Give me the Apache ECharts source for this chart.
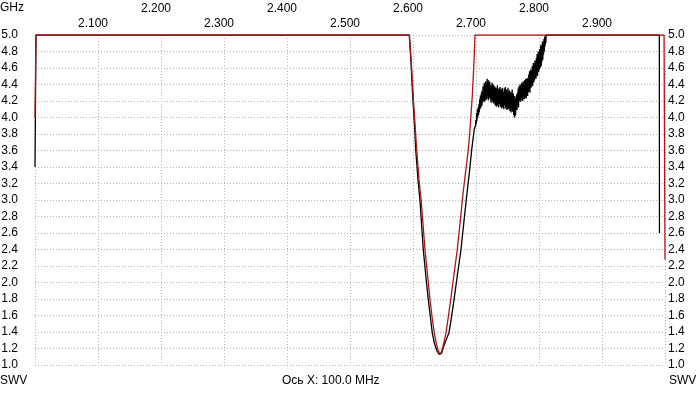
<!DOCTYPE html>
<html>
<head>
<meta charset="utf-8">
<script src="https://cdn.jsdelivr.net/npm/echarts@6/dist/echarts.min.js"></script>
<style>
html,body{margin:0;padding:0;background:#fff;}
#chart{width:700px;height:400px;}
</style>
</head>
<body>
<div id="chart"></div>
<script>
// ---- Data (frequency in GHz, SWR) ----
const xTicks = [2.1, 2.2, 2.3, 2.4, 2.5, 2.6, 2.7, 2.8, 2.9];
const yTicks = [1.0, 1.2, 1.4, 1.6, 1.8, 2.0, 2.2, 2.4, 2.6, 2.8, 3.0, 3.2, 3.4, 3.6, 3.8, 4.0, 4.2, 4.4, 4.6, 4.8, 5.0];

// black trace: smooth part (start + resonance dip)
const blackFreqA = [2.0000, 2.0016, 2.5941, 2.5968, 2.5995, 2.6027, 2.6043, 2.6079, 2.6111, 2.6163, 2.6206, 2.6243, 2.6278, 2.6306, 2.6341, 2.6381, 2.6413, 2.6429,
  2.6452, 2.6484, 2.6524, 2.6571, 2.6611, 2.6651, 2.6706, 2.6762, 2.6810, 2.6857, 2.6897, 2.6932, 2.6973];
const blackSwrA = [3.40, 5.00, 5.00, 4.67, 4.26, 3.86, 3.61, 3.25, 2.99, 2.40, 2.06, 1.79, 1.57, 1.39, 1.26, 1.17, 1.13, 1.12,
  1.14, 1.22, 1.30, 1.39, 1.58, 1.79, 2.10, 2.40, 2.75, 3.08, 3.35, 3.61, 3.86];
// black trace: noisy sweep section (start 2.6992 GHz, 0.6 MHz per sample)
const noiseStart = 2.6992;
const noiseStep = 0.0006;
const blackSwrNoise = [
  3.90, 3.97, 3.92, 4.05, 3.96, 4.10, 4.00, 4.12, 4.03, 4.16,
  4.06, 4.22, 4.10, 4.27, 4.12, 4.20, 4.31, 4.14, 4.33, 4.18,
  4.38, 4.20, 4.29, 4.42, 4.19, 4.35, 4.24, 4.44, 4.21, 4.40,
  4.23, 4.47, 4.26, 4.36, 4.21, 4.45, 4.30, 4.24, 4.43, 4.22,
  4.39, 4.18, 4.33, 4.25, 4.42, 4.19, 4.31, 4.40, 4.17, 4.36,
  4.22, 4.38, 4.15, 4.29, 4.36, 4.13, 4.33, 4.20, 4.39, 4.14,
  4.30, 4.12, 4.35, 4.21, 4.16, 4.37, 4.13, 4.28, 4.34, 4.11,
  4.26, 4.36, 4.12, 4.31, 4.18, 4.10, 4.35, 4.15, 4.29, 4.37,
  4.11, 4.24, 4.34, 4.09, 4.30, 4.17, 4.36, 4.10, 4.27, 4.13,
  4.33, 4.08, 4.22, 4.31, 4.06, 4.26, 4.12, 4.34, 4.07, 4.20,
  4.29, 4.03, 4.18, 4.00, 4.26, 4.08, 4.02, 4.24, 4.11, 4.28,
  4.09, 4.30, 4.16, 4.35, 4.12, 4.38, 4.20, 4.33, 4.40, 4.19,
  4.36, 4.21, 4.42, 4.25, 4.33, 4.20, 4.44, 4.27, 4.39, 4.22,
  4.45, 4.24, 4.38, 4.47, 4.23, 4.41, 4.30, 4.48, 4.26, 4.44,
  4.31, 4.52, 4.35, 4.56, 4.30, 4.49, 4.58, 4.36, 4.53, 4.40,
  4.62, 4.38, 4.57, 4.66, 4.42, 4.60, 4.45, 4.69, 4.48, 4.64,
  4.47, 4.72, 4.52, 4.77, 4.50, 4.68, 4.80, 4.55, 4.75, 4.58,
  4.83, 4.60, 4.79, 4.88, 4.62, 4.85, 4.68, 4.92, 4.70, 4.89,
  4.76, 4.95, 4.80, 4.98, 4.86, 5.00, 4.90, 5.00, 5.00
];
const blackFreqB = [2.8126, 2.9910, 2.9912];
const blackSwrB = [5.00, 5.00, 2.60];

// red trace
const redFreq = [2.0000, 2.0015, 2.5943, 2.5973, 2.6003, 2.6037, 2.6059, 2.6095, 2.6130, 2.6190, 2.6235, 2.6270, 2.6305, 2.6338, 2.6370, 2.6402, 2.6429,
  2.6456, 2.6484, 2.6524, 2.6560, 2.6598, 2.6651, 2.6703, 2.6751, 2.6794, 2.6837, 2.6878, 2.6905, 2.6941, 2.6968, 2.6984, 2.9985, 3.0000];
const redSwr = [4.00, 5.00, 5.00, 4.67, 4.26, 3.86, 3.61, 3.25, 2.99, 2.40, 2.06, 1.79, 1.57, 1.39, 1.26, 1.17, 1.13,
  1.17, 1.25, 1.39, 1.58, 1.79, 2.10, 2.40, 2.75, 3.08, 3.35, 3.61, 3.86, 4.26, 4.67, 5.00, 5.00, 2.28];

// ---- Build series data ----
const blackData = [];
blackFreqA.forEach((f, i) => blackData.push([f, blackSwrA[i]]));
blackSwrNoise.forEach((v, i) => blackData.push([noiseStart + noiseStep * i, v]));
blackFreqB.forEach((f, i) => blackData.push([f, blackSwrB[i]]));
const redData = redFreq.map((f, i) => [f, redSwr[i]]);

const FONT = 'Liberation Sans';
const gridLine = { show: true, lineStyle: { color: '#b4b4b4', type: [1, 2], width: 1 } };

const chart = echarts.init(document.getElementById('chart'), null, { renderer: 'canvas' });
chart.setOption({
  animation: false,
  backgroundColor: '#fff',
  grid: { left: 35, right: 35, top: 35, bottom: 35, containLabel: false, outerBoundsMode: 'none' },
  xAxis: {
    type: 'value', position: 'top', min: 2.0, max: 3.0, interval: 0.1,
    axisLine: { show: false }, axisTick: { show: false },
    splitLine: gridLine,
    axisLabel: {
      fontFamily: FONT, fontSize: 12, color: '#000', margin: 4, lineHeight: 15,
      padding: [0, 10, 0, 0],
      formatter: function (v) {
        const k = Math.round((v - 2) * 10);
        if (k <= 0 || k >= 10) return '';
        const t = xTicks[k - 1].toFixed(3);
        return (k % 2 === 0) ? t + '\n ' : t;
      }
    }
  },
  yAxis: [
    {
      type: 'value', position: 'left', min: 1.0, max: 5.0, interval: 0.2,
      axisLine: { show: false }, axisTick: { show: false },
      splitLine: gridLine,
      axisLabel: { fontFamily: FONT, fontSize: 12, color: '#000', margin: 17,
        formatter: v => yTicks[Math.round((v - 1) * 5)].toFixed(1) }
    },
    {
      type: 'value', position: 'right', min: 1.0, max: 5.0, interval: 0.2,
      axisLine: { show: false }, axisTick: { show: false },
      splitLine: { show: false },
      axisLabel: { fontFamily: FONT, fontSize: 12, color: '#000', margin: 3, align: 'left',
        formatter: v => yTicks[Math.round((v - 1) * 5)].toFixed(1) }
    }
  ],
  series: [
    { type: 'line', data: blackData, yAxisIndex: 0, showSymbol: false, symbol: 'none',
      lineStyle: { color: '#000', width: 1.3 }, itemStyle: { color: '#000' }, silent: true },
    { type: 'line', data: redData, yAxisIndex: 0, showSymbol: false, symbol: 'none',
      lineStyle: { color: '#b01515', width: 1.3 }, itemStyle: { color: '#b01515' }, silent: true }
  ],
  graphic: [
    { type: 'text', left: 0, top: 2, style: { text: 'GHz', fontFamily: FONT, fontSize: 12, fill: '#000' } },
    { type: 'text', left: 0, top: 375, style: { text: 'SWV', fontFamily: FONT, fontSize: 12, fill: '#000' } },
    { type: 'text', left: 669, top: 375, style: { text: 'SWV', fontFamily: FONT, fontSize: 12, fill: '#000' } },
    { type: 'text', left: 282, top: 375, style: { text: 'Ось X: 100.0 MHz', fontFamily: FONT, fontSize: 12, fill: '#000' } }
  ]
});
</script>
</body>
</html>
